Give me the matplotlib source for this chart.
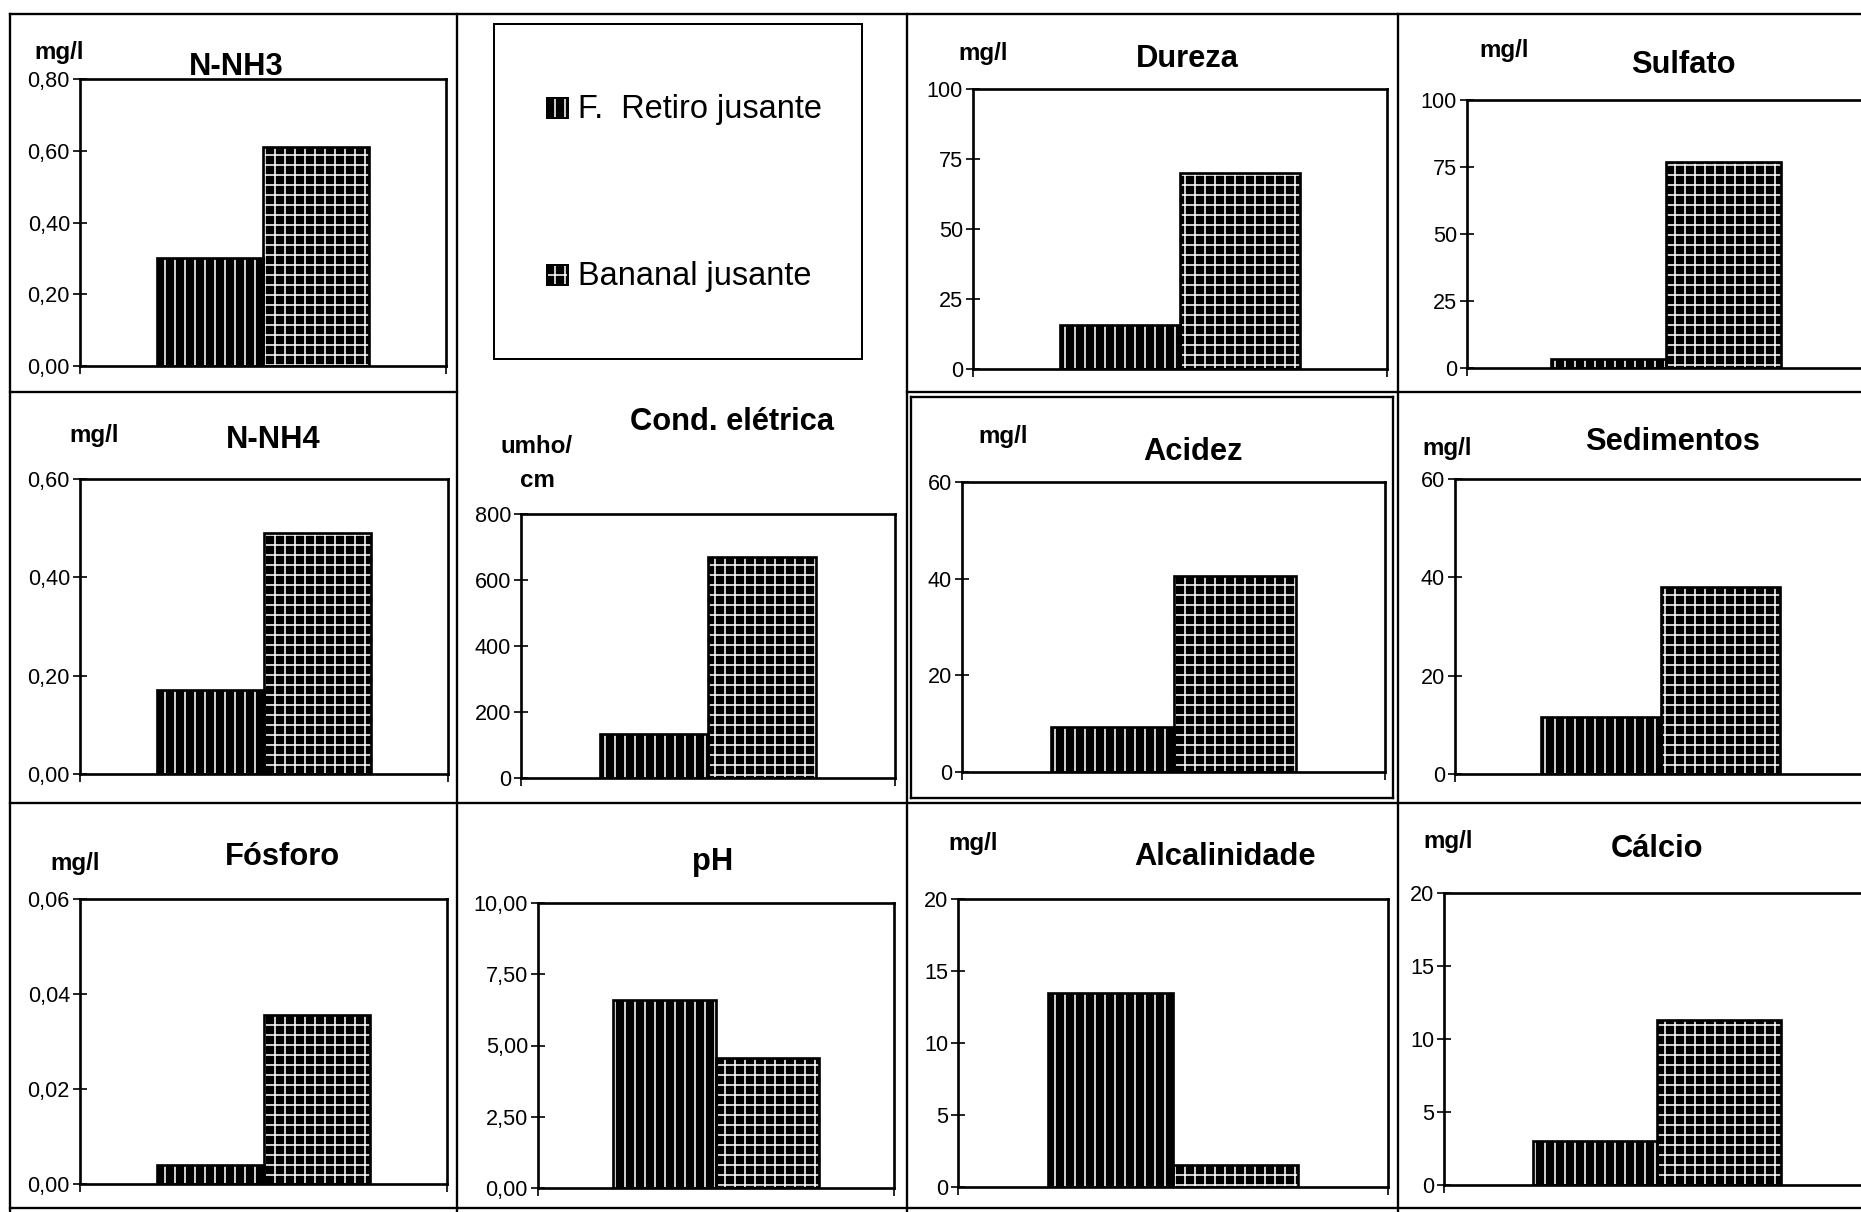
import numpy as np
import matplotlib.pyplot as plt
from matplotlib.patches import Rectangle
from matplotlib.lines import Line2D
from matplotlib.ticker import FuncFormatter

plt.rcParams['font.family'] = ['Liberation Sans', 'DejaVu Sans']
plt.rcParams['hatch.linewidth'] = 0.95

# series
serie1 = "F.  Retiro jusante"
serie2 = "Bananal jusante"

# parametros (ordem dos paineis)
titulos = ["N-NH3", "Dureza", "Sulfato",
           "N-NH4", "Cond. elétrica", "Acidez", "Sedimentos",
           "Fósforo", "pH", "Alcalinidade", "Cálcio"]
unidades = ["mg/l", "mg/l", "mg/l",
            "mg/l", "umho/\ncm", "mg/l", "mg/l",
            "mg/l", "", "mg/l", "mg/l"]
retiro = [0.30, 15.8, 3.4, 0.17, 133, 9.4, 11.5, 0.004, 6.6, 13.5, 3.0]
bananal = [0.61, 70, 77, 0.49, 670, 40.6, 38, 0.0355, 4.55, 1.55, 11.3]
y_max = [0.8, 100, 100, 0.6, 800, 60, 60, 0.06, 10, 20, 20]
y_passo = [0.2, 25, 25, 0.2, 200, 20, 20, 0.02, 2.5, 5, 5]
casas = [2, 0, 0, 2, 0, 0, 0, 2, 2, 0, 0]

# layout em pixels: (esq, topo, dir, base)
W, H, DPI = 1861, 1212, 120
caixas = [(80, 79, 446, 366), (973, 89, 1387, 369), (1467, 100, 1865, 368),
          (80, 479, 448, 774), (521, 514, 895, 778), (962, 482, 1385, 772), (1455, 479, 1866, 774),
          (80, 899, 447, 1184), (538, 903, 894, 1188), (958, 899, 1388, 1187), (1444, 893, 1870, 1185)]
pos_titulo = [(236, 75), (1187, 67), (1683, 73),
              (273, 448), (732, 430), (1193, 460), (1673, 450),
              (282, 865), (713, 870), (1225, 865), (1657, 857)]
pos_unidade = [(59, 59), (983, 60), (1504, 57),
               (94, 442), (537, 453), (1003, 443), (1447, 455),
               (75, 870), (0, 0), (973, 850), (1448, 848)]


def fx(x):
    return x / W


def fy(y):
    return 1 - y / H


fig = plt.figure(figsize=(W / DPI, H / DPI), dpi=DPI)

larg = 0.29
for i in range(len(titulos)):
    L, T, R, B = caixas[i]
    ax = fig.add_axes([fx(L), fy(B), (R - L) / W, (B - T) / H])
    ax.bar(-larg / 2, retiro[i], larg, color='black', edgecolor='white', hatch='||', linewidth=0)
    ax.bar(larg / 2, bananal[i], larg, color='black', edgecolor='white', hatch='++', linewidth=0)
    ax.bar([-larg / 2, larg / 2], [retiro[i], bananal[i]], larg, fill=False, edgecolor='black', linewidth=1.6)
    ax.set_xlim(-0.5, 0.5)
    ax.set_ylim(0, y_max[i])
    ax.set_yticks(np.arange(0, y_max[i] + y_passo[i] / 2, y_passo[i]))
    ax.yaxis.set_major_formatter(FuncFormatter(lambda v, p, c=casas[i]: f"{v:.{c}f}".replace('.', ',')))
    ax.set_xticks([-0.5, 0.5])
    ax.set_xticklabels([])
    ax.tick_params(axis='y', direction='inout', length=8, width=1, labelsize=13, pad=2)
    ax.tick_params(axis='x', direction='out', length=5, width=1)
    for s in ax.spines.values():
        s.set_linewidth(1.6)

    x, y = pos_titulo[i]
    fig.text(fx(x), fy(y), titulos[i], ha='center', va='baseline', fontsize=18.5, fontweight='bold')
    if unidades[i]:
        x, y = pos_unidade[i]
        for k, linha in enumerate(unidades[i].split('\n')):
            fig.text(fx(x), fy(y + 34 * k), linha, ha='center', va='baseline', fontsize=14.5, fontweight='bold')

# legenda
ax_leg = fig.add_axes([fx(494), fy(359), (862 - 494) / W, (359 - 24) / H])
ax_leg.set_xlim(494, 862)
ax_leg.set_ylim(359, 24)
ax_leg.set_xticks([])
ax_leg.set_yticks([])
for s in ax_leg.spines.values():
    s.set_linewidth(1.2)
for nome, hatch, ytxt in [(serie1, '||', 118), (serie2, '++', 285)]:
    ax_leg.add_patch(Rectangle((547, ytxt - 20), 21, 20, facecolor='black', edgecolor='white', hatch=hatch, linewidth=0))
    ax_leg.add_patch(Rectangle((547, ytxt - 20), 21, 20, fill=False, edgecolor='black', linewidth=1.2))
    ax_leg.text(578, ytxt, nome, fontsize=19.5, va='baseline', ha='left')

# moldura da tabela
linhas = [((10, 14), (1861, 14)), ((10, 392), (457, 392)), ((907, 392), (1861, 392)),
          ((10, 803), (1861, 803)), ((10, 1208), (1861, 1208)),
          ((10, 14), (10, 1212)), ((457, 14), (457, 1212)), ((907, 14), (907, 1212)),
          ((1398, 14), (1398, 1212)), ((911, 397), (1393, 397)), ((911, 397), (911, 798)),
          ((1393, 397), (1393, 798)), ((911, 798), (1393, 798))]
for (x0, y0), (x1, y1) in linhas:
    fig.add_artist(Line2D([fx(x0), fx(x1)], [fy(y0), fy(y1)], transform=fig.transFigure, color='black', lw=1.4))

fig.savefig("out.png", dpi=DPI)
